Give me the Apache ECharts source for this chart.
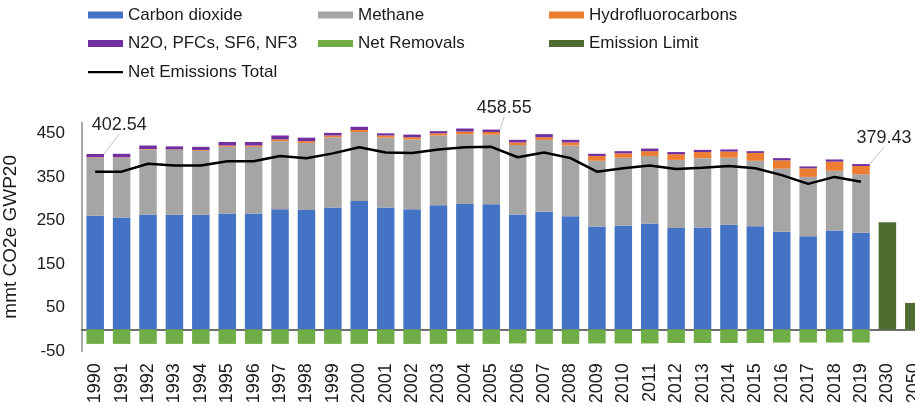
<!DOCTYPE html>
<html>
<head>
<meta charset="utf-8">
<script src="https://cdn.jsdelivr.net/npm/echarts@6/dist/echarts.min.js"></script>
<style>
html,body{margin:0;padding:0;background:#fff;}
#chart{width:915px;height:406px;}
</style>
</head>
<body>
<div id="chart"></div>
<script>
var categories = ['1990','1991','1992','1993','1994','1995','1996','1997','1998','1999','2000','2001','2002','2003','2004','2005','2006','2007','2008','2009','2010','2011','2012','2013','2014','2015','2016','2017','2018','2019','2030','2050'];
var carbonDioxide = [261,257,264,263,263,266,266,276,274,280,295,280,276,285,288,287,264,270,260,236,238,243,233,234,240,237,224,214,227,222,null,null];
var methane = [133,137,149,149,147,153,153,156,154,161,158,160,160,160,160,160,159,165,162,151,156,155,156,159,154,150,145,136,137,134,null,null];
var hydrofluorocarbons = [1,1,1,1,1.5,3,3,4,4,4,4.5,5,5,5,6,6,6,6,7,11,10,11,13,14,14,18,19,19.5,21,19,null,null];
var otherGases = [7.54,8,8,7,7.5,8,8,9,8,6,7.5,5,6,5,7,5.55,6,7,6,5,5,6,5,5,5,4,5,4.5,5,4.43,null,null];
var netRemovals = [-33,-33,-33,-33,-33,-33,-33,-33,-33,-33,-33,-33,-33,-33,-33,-33,-32,-33,-33,-32,-32,-32,-31,-31,-31,-31,-30,-30,-30,-30,null,null];
var emissionLimit = [null,null,null,null,null,null,null,null,null,null,null,null,null,null,null,null,null,null,null,null,null,null,null,null,null,null,null,null,null,null,246,61];
var netEmissionsTotal = [362,362,380,376,376,386,386,398,393,404,418,406,405,413,418,419,395,406,393,362,370,376,368,371,375,370,354,334,350,339,null,null];
var annotatedTotals = {0:'402.54', 15:'458.55', 29:'379.43'};
var yTicks = [-50,50,150,250,350,450];

var FONT = 'Liberation Sans, Arial, sans-serif';
var labelShift = {0:{dx:24,dy:-16}, 15:{dx:13,dy:-9}, 29:{dx:23,dy:-13}};

var otherData = otherGases.map(function(v,i){
  if (annotatedTotals[i] !== undefined) {
    return {value:v, label:{show:true, position:'top', distance:4, formatter:annotatedTotals[i],
      color:'#262626', fontSize:18, fontFamily:FONT},
      labelLine:{show:true, lineStyle:{color:'#bfbfbf', width:1}}};
  }
  return v;
});

function bar(name, data, color){
  return {name:name, type:'bar', stack:'total', data:data, barWidth:17.5,
    itemStyle:{color:color}, emphasis:{disabled:true}, xAxisIndex:0};
}

var series = [
  bar('Carbon dioxide', carbonDioxide, '#4472C4'),
  bar('Methane', methane, '#A5A5A5'),
  bar('Hydrofluorocarbons', hydrofluorocarbons, '#ED7D31'),
  Object.assign(bar('N2O, PFCs, SF6, NF3', otherData, '#7030A0'), {
    labelLayout:function(p){ var s = labelShift[p.dataIndex]; return s ? {dx:s.dx, dy:s.dy} : {}; }
  }),
  bar('Net Removals', netRemovals, '#70AD47'),
  bar('Emission Limit', emissionLimit, '#4E6B30'),
  {name:'Net Emissions Total', type:'line', data:netEmissionsTotal, symbol:'none',
    lineStyle:{color:'#000', width:2.5}, itemStyle:{color:'#000'}, z:5,
    emphasis:{disabled:true}, xAxisIndex:0}
];

var legendText = {color:'#1a1a1a', fontSize:17, fontFamily:FONT, lineHeight:20};
function legendCol(left, names){
  return {orient:'vertical', left:left, top:5, itemWidth:35, itemHeight:7, itemGap:8.5,
    textStyle:legendText, selectedMode:false, padding:0, symbolKeepAspect:true,
    data:names.map(function(n){
      return n === 'Net Emissions Total'
        ? {name:n, icon:'path://M0,0L140,0L140,9L0,9Z', itemStyle:{color:'#000'}}
        : {name:n, icon:'rect'};
    })};
}

var chart = echarts.init(document.getElementById('chart'), null, {renderer:'canvas'});
chart.setOption({
  animation:false,
  backgroundColor:'#fff',
  legend:[
    legendCol(88, ['Carbon dioxide','N2O, PFCs, SF6, NF3','Net Emissions Total']),
    legendCol(318, ['Methane','Net Removals']),
    legendCol(549, ['Hydrofluorocarbons','Emission Limit'])
  ],
  grid:{left:82, top:122.4, bottom:54.7, width:845, containLabel:false, outerBoundsMode:'none'},
  xAxis:[
    {type:'category', data:categories, position:'bottom',
      axisLine:{onZero:true, lineStyle:{color:'#404040', width:1.5}},
      axisTick:{show:false}, axisLabel:{show:false}, splitLine:{show:false}},
    {type:'category', data:categories, position:'bottom',
      axisLine:{show:false}, axisTick:{show:false},
      axisLabel:{show:true, rotate:90, margin:12, color:'#1a1a1a', fontSize:18, fontFamily:FONT, interval:0},
      splitLine:{show:false}}
  ],
  yAxis:{type:'value', min:-50, max:475, interval:100,
    name:'mmt CO2e GWP20', nameLocation:'middle', nameGap:62, nameRotate:90,
    nameTextStyle:{color:'#1a1a1a', fontSize:19, fontFamily:FONT},
    axisLine:{show:true, onZero:false, lineStyle:{color:'#8c8c8c', width:1.5}},
    axisTick:{show:false}, splitLine:{show:false},
    axisLabel:{color:'#1a1a1a', fontSize:17, fontFamily:FONT, margin:17,
      customValues:yTicks}
  },
  series:series
});
</script>
</body>
</html>
